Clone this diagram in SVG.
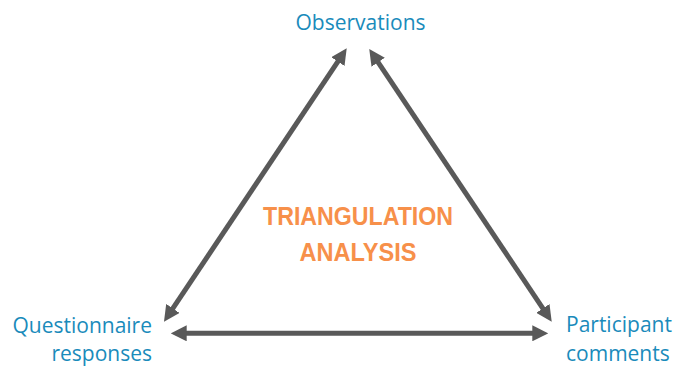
<svg xmlns="http://www.w3.org/2000/svg" width="678" height="366" viewBox="0 0 678 366">
  <style>
    .lbl { font-family: "Open Sans", "Noto Sans", sans-serif; font-size: 21px; fill: #1A8BBB; }
    .title { font-family: "Liberation Sans", Arial, sans-serif; font-weight: bold; font-size: 25px; fill: #F7904A; text-anchor: middle; }
    .conn { stroke: #595959; stroke-width: 5; fill: none; marker-start: url(#ah); marker-end: url(#ah); }
  </style>
  <defs>
    <marker id="ah" viewBox="0 0 16 16" markerWidth="16" markerHeight="16" markerUnits="userSpaceOnUse" refX="3" refY="8" orient="auto-start-reverse">
      <path d="M0,0 L16,8 L0,16 z" fill="#595959"/>
    </marker>
  </defs>
  <rect width="678" height="366" fill="#ffffff"/>
  <g id="connectors">
    <line class="conn" x1="171.2" y1="310.9" x2="339.5" y2="59.1"/>
    <line class="conn" x1="376.5" y1="59.8" x2="544.5" y2="310.9"/>
    <line class="conn" x1="183.7" y1="333.3" x2="535.3" y2="333.3"/>
  </g>
  <g id="observations">
    <text class="lbl" x="360.5" y="30" text-anchor="middle">Observations</text>
  </g>
  <g id="questionnaire">
    <text class="lbl" x="152" y="333" text-anchor="end">Questionnaire</text>
    <text class="lbl" x="152" y="361" text-anchor="end">responses</text>
  </g>
  <g id="participant">
    <text class="lbl" x="566" y="332">Participant</text>
    <text class="lbl" x="566" y="361">comments</text>
  </g>
  <g id="center">
    <text class="title" x="358" y="225" textLength="190" lengthAdjust="spacingAndGlyphs">TRIANGULATION</text>
    <text class="title" x="358" y="261" textLength="117" lengthAdjust="spacingAndGlyphs">ANALYSIS</text>
  </g>
</svg>
